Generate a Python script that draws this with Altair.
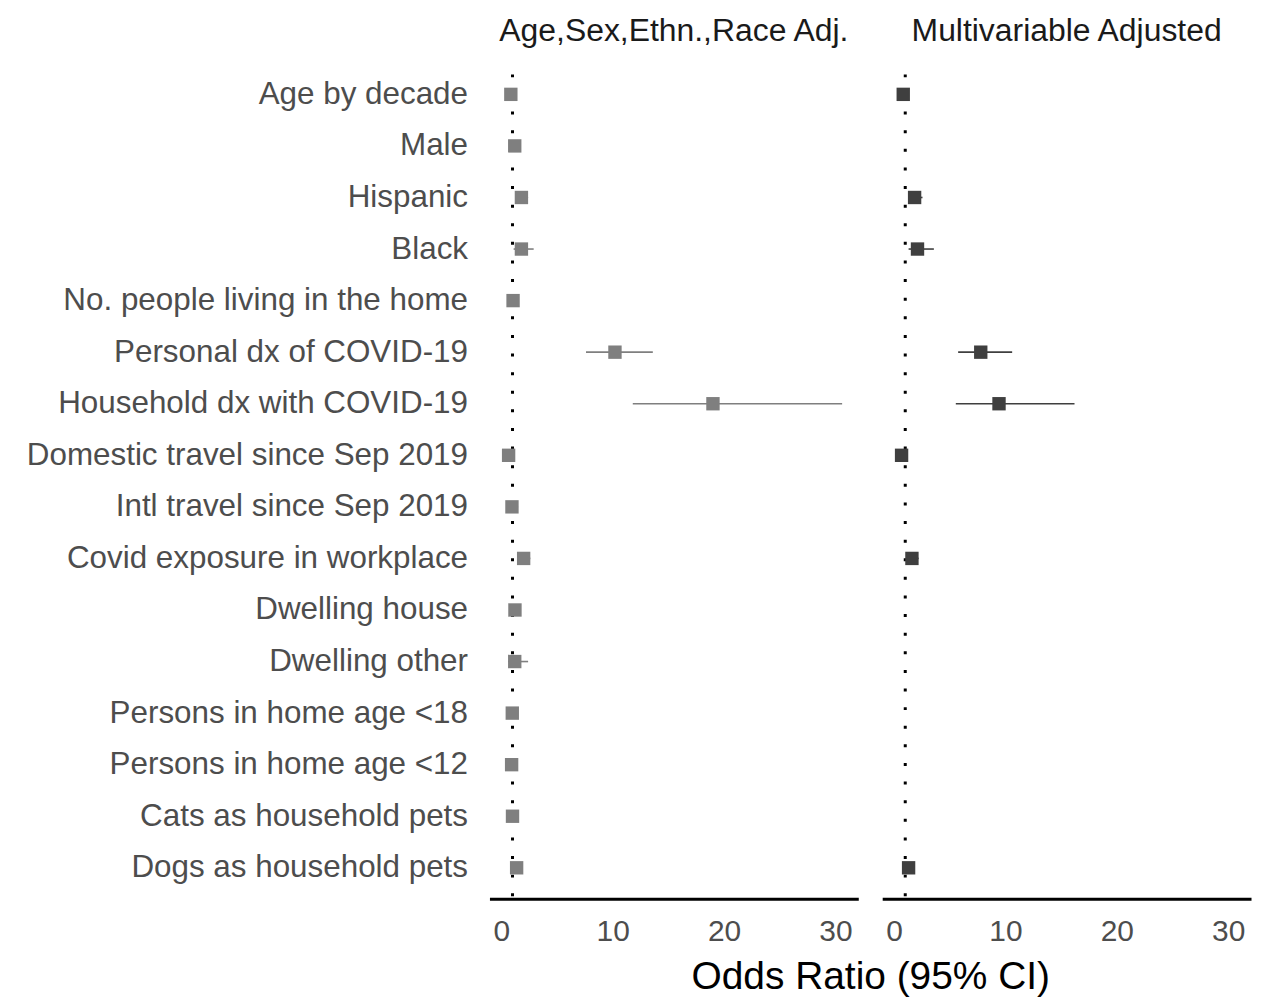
import altair as alt
import pandas as pd

categories = [
    "Age by decade", "Male", "Hispanic", "Black", "No. people living in the home",
    "Personal dx of COVID-19", "Household dx with COVID-19",
    "Domestic travel since Sep 2019", "Intl travel since Sep 2019",
    "Covid exposure in workplace", "Dwelling house", "Dwelling other",
    "Persons in home age <18", "Persons in home age <12",
    "Cats as household pets", "Dogs as household pets",
]

# Age, Sex, Ethnicity, Race adjusted
left_or = [0.85, 1.2, 1.8, 1.8, 1.05, 10.2, 19.0, 0.65, 0.95, 2.0, 1.22, 1.2, 0.98, 0.92, 1.0, 1.37]
left_lo = [0.75, 0.9, 1.3, 1.1, 0.95, 7.6, 11.8, 0.45, 0.6, 1.5, 0.9, 0.6, 0.7, 0.65, 0.7, 1.0]
left_hi = [0.96, 1.6, 2.4, 2.9, 1.2, 13.6, 30.6, 0.95, 1.5, 2.6, 1.7, 2.4, 1.35, 1.3, 1.4, 1.85]

# Multivariable adjusted (None = not in model)
right_or = [0.82, None, 1.84, 2.1, None, 7.78, 9.42, 0.67, None, 1.6, None, None, None, None, None, 1.3]
right_lo = [0.72, None, 1.3, 1.3, None, 5.75, 5.54, 0.45, None, 1.2, None, None, None, None, None, 0.95]
right_hi = [0.94, None, 2.55, 3.57, None, 10.6, 16.2, 1.0, None, 2.2, None, None, None, None, None, 1.8]

panel_titles = ["Age,Sex,Ethn.,Race Adj.", "Multivariable Adjusted"]
x_ticks = [0, 10, 20, 30]
ref_line = [1]

FONT = "Liberation Sans"
W, H = 370, 838
XDOM = [-1.07, 32.05]

left_df = pd.DataFrame({"var": categories, "or": left_or, "lo": left_lo, "hi": left_hi})
right_df = pd.DataFrame({"var": categories, "or": right_or, "lo": right_lo, "hi": right_hi}).dropna()
ref_df = pd.DataFrame({"x": ref_line})


def panel(df, color, title, show_y, show_title):
    xscale = alt.Scale(domain=XDOM, nice=False, zero=False)
    yscale = alt.Scale(type="point", padding=0.6, domain=categories)
    if show_y:
        yaxis = alt.Axis(title=None, domain=False, ticks=False, tickSize=0, grid=False,
                         labelFont=FONT, labelFontSize=31.5, labelColor="#4d4d4d",
                         labelPadding=22, labelLimit=600)
    else:
        yaxis = None
    xaxis_kw = dict(values=x_ticks, grid=False, ticks=False, tickSize=0,
                    domain=True, domainColor="black", domainWidth=3,
                    labelFont=FONT, labelFontSize=30, labelColor="#4d4d4d",
                    labelPadding=18, labelFlush=False)
    if show_title:
        xaxis = alt.Axis(title="Odds Ratio (95% CI)", titleFont=FONT, titleFontSize=39,
                         titleFontWeight="normal", titleColor="black",
                         titleX=-12, titleY=90, titleAlign="center",
                         titleBaseline="alphabetic", **xaxis_kw)
    else:
        xaxis = alt.Axis(title=None, **xaxis_kw)

    ref = alt.Chart(ref_df).mark_rule(
        color="black", strokeWidth=3, strokeDash=[3, 15.67], strokeDashOffset=7.67,
        strokeCap="butt"
    ).encode(
        x=alt.X("x:Q", scale=xscale, axis=xaxis),
        y=alt.value(0), y2=alt.value(H),
    )
    bars = alt.Chart(df).mark_rule(color=color, strokeWidth=1.6).encode(
        x=alt.X("lo:Q", scale=xscale),
        x2="hi:Q",
        y=alt.Y("var:N", scale=yscale, axis=yaxis, sort=categories),
    )
    pts = alt.Chart(df).mark_point(shape="square", filled=True, size=180, color=color, opacity=1).encode(
        x=alt.X("or:Q", scale=xscale),
        y=alt.Y("var:N", scale=yscale, sort=categories),
    )
    return alt.layer(ref, bars, pts).properties(
        width=W, height=H,
        title=alt.TitleParams(title, font=FONT, fontSize=32, fontWeight="normal",
                              color="#1a1a1a", anchor="middle", offset=-18,
                              baseline="bottom"),
    )


left = panel(left_df, "#7f7f7f", panel_titles[0], True, False)
right = panel(right_df, "#3f3f3f", panel_titles[1], False, True)

chart = alt.hconcat(left, right, spacing=24, bounds="flush").configure_view(
    stroke=None
).properties(
    padding={"left": 18, "top": 5, "right": 5, "bottom": 5}
)

chart.save("out.html", embed_options={"renderer": "svg", "actions": False})
